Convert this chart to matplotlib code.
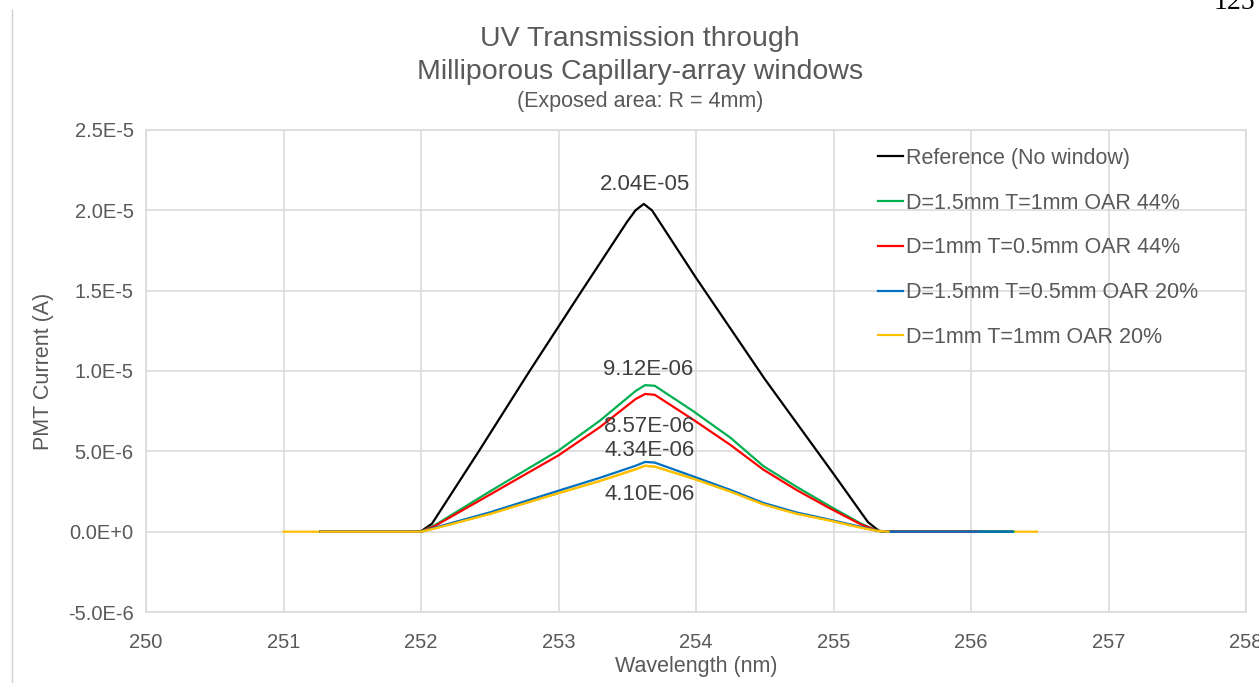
import matplotlib
matplotlib.use("Agg")
import matplotlib.pyplot as plt
from matplotlib.ticker import FuncFormatter, MultipleLocator
from matplotlib.lines import Line2D

plt.rcParams['font.family'] = ['Liberation Sans', 'DejaVu Sans']

# PMT current vs wavelength for each window (values in A)
ref_wl = [251.27, 251.9, 252.0, 252.08, 252.42, 252.79, 253.17, 253.5, 253.56, 253.62,
          253.68, 254.0, 254.5, 255.0, 255.25, 255.33, 255.4, 256.3]
ref_i = [0, 0, 0.02e-6, 0.5e-6, 5.0e-6, 1.0e-5, 1.5e-5, 1.93e-5, 2.0e-5, 2.04e-5,
         2.0e-5, 1.58e-5, 9.5e-6, 3.6e-6, 0.6e-6, 0.05e-6, 0, 0]

win_wl = [251.27, 252.0, 252.1, 252.5, 253.0, 253.3, 253.56, 253.63, 253.7,
          253.98, 254.25, 254.49, 254.73, 254.97, 255.2, 255.32, 255.4]
green_i = [0, 0, 0.4e-6, 2.5e-6, 5.05e-6, 6.9e-6, 8.75e-6, 9.12e-6, 9.08e-6,
           7.5e-6, 5.85e-6, 4.08e-6, 2.8e-6, 1.6e-6, 0.5e-6, 0.05e-6, 0]
red_i = [0, 0, 0.35e-6, 2.3e-6, 4.75e-6, 6.5e-6, 8.25e-6, 8.57e-6, 8.52e-6,
         6.97e-6, 5.4e-6, 3.86e-6, 2.6e-6, 1.47e-6, 0.45e-6, 0.05e-6, 0]
blue_i = [0, 0, 0.25e-6, 1.2e-6, 2.55e-6, 3.35e-6, 4.1e-6, 4.34e-6, 4.3e-6,
          3.44e-6, 2.6e-6, 1.79e-6, 1.2e-6, 0.75e-6, 0.3e-6, 0.05e-6, 0]
yellow_i = [0, 0, 0.2e-6, 1.1e-6, 2.4e-6, 3.15e-6, 3.88e-6, 4.10e-6, 4.05e-6,
            3.3e-6, 2.5e-6, 1.7e-6, 1.12e-6, 0.7e-6, 0.25e-6, 0.05e-6, 0]

# where each flat tail ends (and where the yellow scan starts)
green_end = 256.31
red_end = 256.05
blue_end = 256.3
yellow_start = 251.0
yellow_end = 256.48

labels = ['Reference (No window)', 'D=1.5mm T=1mm OAR 44%', 'D=1mm T=0.5mm OAR 44%',
          'D=1.5mm T=0.5mm OAR 20%', 'D=1mm T=1mm OAR 20%']
colors = ['#000000', '#00b050', '#ff0000', '#0070c0', '#ffc000']
peaks = [2.04e-5, 9.12e-6, 8.57e-6, 4.34e-6, 4.10e-6]
peak_wl = 253.63

grey = '#595959'
grid_c = '#d9d9d9'

fig = plt.figure(figsize=(12.59, 6.83), dpi=100)
ax = fig.add_axes([146 / 1259, 1 - 612 / 683, 1100 / 1259, 482 / 683])

lw = 1.6
# full yellow scan underneath, so the flat parts of the other curves sit on top
ax.plot([yellow_start] + win_wl + [yellow_end], [0] + yellow_i + [0], color=colors[4], lw=lw, zorder=2)
ax.plot(ref_wl, ref_i, color=colors[0], lw=lw, label=labels[0], zorder=3)
ax.plot(win_wl + [green_end], green_i + [0], color=colors[1], lw=lw, label=labels[1], zorder=3)
ax.plot(win_wl + [red_end], red_i + [0], color=colors[2], lw=lw, label=labels[2], zorder=3)
ax.plot(win_wl + [blue_end], blue_i + [0], color=colors[3], lw=lw, label=labels[3], zorder=3)
ax.plot(win_wl, yellow_i, color=colors[4], lw=lw, label=labels[4], zorder=3)

# peak value labels
fs_lab = 16
lab_c = '#404040'
ax.text(peak_wl, peaks[0] + 0.55e-6, f"{peaks[0]:.2E}", ha='center', va='bottom', fontsize=fs_lab, color=lab_c)
ax.text(peak_wl + 0.02, peaks[1] + 0.35e-6, f"{peaks[1]:.2E}", ha='center', va='bottom', fontsize=fs_lab, color=lab_c)
ax.text(peak_wl + 0.03, peaks[2] - 1.4e-6, f"{peaks[2]:.2E}", ha='center', va='top', fontsize=fs_lab, color=lab_c)
ax.text(peak_wl + 0.03, peaks[3] + 0.08e-6, f"{peaks[3]:.2E}", ha='center', va='bottom', fontsize=fs_lab, color=lab_c)
ax.text(peak_wl + 0.03, peaks[4] - 1.15e-6, f"{peaks[4]:.2E}", ha='center', va='top', fontsize=fs_lab, color=lab_c)

ax.set_xlim(250, 258)
ax.set_ylim(-5e-6, 2.5e-5)
ax.xaxis.set_major_locator(MultipleLocator(1))
ax.yaxis.set_major_locator(MultipleLocator(5e-6))


def sci_fmt(v, pos):
    m, e = f"{v:.1E}".split('E')
    e = int(e)
    return f"{m}E{'+' if e >= 0 else '-'}{abs(e)}"


ax.yaxis.set_major_formatter(FuncFormatter(sci_fmt))
ax.grid(True, color=grid_c, lw=1.1, zorder=0)
ax.set_axisbelow(True)
for s in ax.spines.values():
    s.set_color(grid_c)
    s.set_linewidth(1.1)
ax.tick_params(length=0, labelsize=14.5, colors=grey)
ax.tick_params(axis='y', pad=9)
ax.tick_params(axis='x', pad=15)

ax.set_xlabel('Wavelength (nm)', fontsize=15.5, color=grey, labelpad=3)
ax.set_ylabel('PMT Current (A)', fontsize=15.5, color=grey, labelpad=10)

# legend without frame at upper right
ax.legend(loc='upper left', bbox_to_anchor=(878 / 1259, 1 - 148 / 683), bbox_transform=fig.transFigure,
          frameon=False, fontsize=15.5, handlelength=1.15, handletextpad=0.15, labelspacing=1.1,
          labelcolor=grey, borderpad=0, borderaxespad=0)

# titles
fig.text(640 / 1259, 1 - 39 / 683, 'UV Transmission through', ha='center', va='center', fontsize=20.5, color=grey)
fig.text(640 / 1259, 1 - 72 / 683, 'Milliporous Capillary-array windows', ha='center', va='center', fontsize=20.5, color=grey)
fig.text(640 / 1259, 1 - 102 / 683, '(Exposed area: R = 4mm)', ha='center', va='center', fontsize=15.5, color=grey)

# page number and margin rule
fig.text(1214 / 1259, 1 - 9 / 683, '125', ha='left', va='baseline', fontsize=20, family='Liberation Serif', color='black')
fig.add_artist(Line2D([12 / 1259, 12 / 1259], [0, 1 - 10 / 683], transform=fig.transFigure, color='#d0d0d0', lw=1))

fig.savefig('out.png', dpi=100)
